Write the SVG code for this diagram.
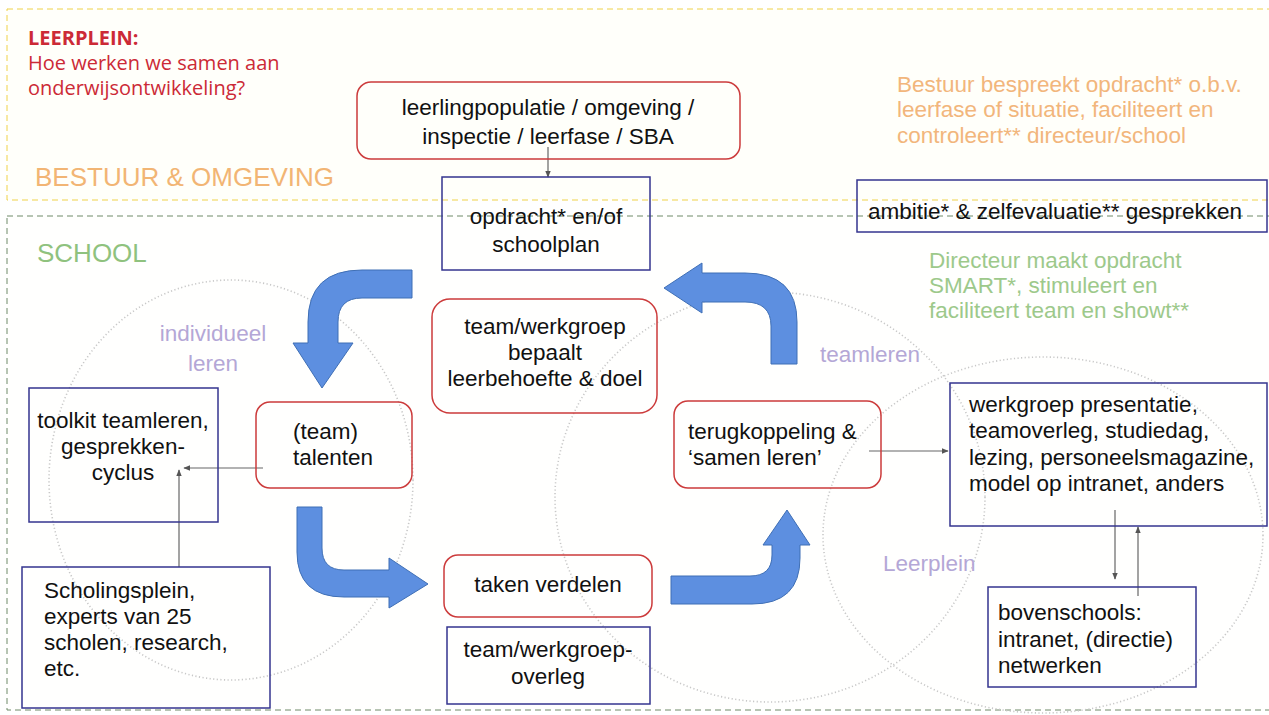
<svg xmlns="http://www.w3.org/2000/svg" width="1269" height="715" viewBox="0 0 1269 715">
<defs>
<style>
.t{font-family:"Liberation Sans",Arial,sans-serif;font-size:22.5px;fill:#111}
.c{text-anchor:middle}
.rb{fill:none;stroke:#cc3b3b;stroke-width:1.5}
.bb{fill:none;stroke:#35358f;stroke-width:1.5}
.circ{fill:none;stroke:#c8c8c8;stroke-width:1.6;stroke-dasharray:1.2 2.4}
.lav{font-family:"Liberation Sans",Arial,sans-serif;font-size:22.5px;fill:#b4a7d6}
.org{font-family:"Liberation Sans",Arial,sans-serif;font-size:22.5px;fill:#f2b67c}
.grn{font-family:"Liberation Sans",Arial,sans-serif;font-size:22.5px;fill:#9dc98b}
.hd{font-family:"Open Sans","Liberation Sans",sans-serif;font-size:20px;fill:#cc2a36}
.arr{fill:#5d8fe0;stroke:#3f6fb5;stroke-width:1}
.con{fill:none;stroke:#666;stroke-width:1.2}
</style>
<marker id="ah" viewBox="0 0 10 10" refX="9" refY="5" markerWidth="7" markerHeight="7" orient="auto" markerUnits="userSpaceOnUse">
<path d="M0,1 L10,5 L0,9 Z" fill="#555"/>
</marker>
</defs>
<rect width="1269" height="715" fill="#ffffff"/>

<g id="zones">
<rect x="7" y="9" width="1290" height="191" fill="#fffffa" stroke="#efd24a" stroke-width="1" stroke-dasharray="6 4"/>
<rect x="7" y="216" width="1290" height="494" fill="#fffffe" stroke="#6f8a68" stroke-width="1" stroke-dasharray="6 4"/>
<text class="hd" x="28" y="45" font-size="18.5" font-weight="bold" fill="#c8102e">LEERPLEIN:</text>
<text class="hd" x="28" y="70">Hoe werken we samen aan</text>
<text class="hd" x="28" y="95">onderwijsontwikkeling?</text>
<text x="35" y="186" font-family="'Liberation Sans',Arial,sans-serif" font-size="26" fill="#f2b574">BESTUUR &amp; OMGEVING</text>
<text x="37" y="262" font-family="'Liberation Sans',Arial,sans-serif" font-size="26" fill="#8fc27e">SCHOOL</text>
<text class="org" x="897" y="92">Bestuur bespreekt opdracht* o.b.v.</text>
<text class="org" x="897" y="117">leerfase of situatie, faciliteert en</text>
<text class="org" x="897" y="143">controleert** directeur/school</text>
<text class="grn" x="929" y="268">Directeur maakt opdracht</text>
<text class="grn" x="929" y="293">SMART*, stimuleert en</text>
<text class="grn" x="929" y="318">faciliteert team en showt**</text>
</g>

<g id="circles">
<ellipse class="circ" cx="231" cy="480" rx="182" ry="200"/>
<ellipse class="circ" cx="770" cy="497" rx="215" ry="205"/>
<ellipse class="circ" cx="1043" cy="535" rx="220" ry="178"/>
<text class="lav c" x="213" y="341">individueel</text>
<text class="lav c" x="213" y="371">leren</text>
<text class="lav" x="820" y="362">teamleren</text>
<text class="lav" x="883" y="571">Leerplein</text>
</g>

<g id="flow-arrows">
<path class="arr" d="M412,270 L362,270 Q308,270 308,322 L308,343 L293,343 L322,388 L353,343 L338,343 L338,322 Q338,298 362,298 L412,298 Z"/>
<path class="arr" d="M297,507 L322,507 L322,548 Q322,570 344,570 L389,570 L389,558 L428,584 L389,608 L389,597 L344,597 Q297,597 297,552 Z"/>
<path class="arr" d="M671,576 L750,576 Q772,576 772,555 L772,545 L763,545 L787,510 L810,545 L800,545 L800,558 Q800,604 752,604 L671,604 Z"/>
<path class="arr" d="M771,364 L797,364 L797,322 Q797,273 745,273 L702,273 L702,263 L664,288 L702,313 L702,302 L745,302 Q771,302 771,326 Z"/>
</g>

<g id="connectors">
<line class="con" x1="548" y1="147" x2="548" y2="177" marker-end="url(#ah)"/>
<line class="con" x1="263" y1="468" x2="184" y2="468" marker-end="url(#ah)"/>
<line class="con" x1="179" y1="567" x2="179" y2="470" marker-end="url(#ah)"/>
<line class="con" x1="869" y1="451" x2="948" y2="451" marker-end="url(#ah)"/>
<line class="con" x1="1115" y1="510" x2="1115" y2="579" marker-end="url(#ah)"/>
<line class="con" x1="1138" y1="596" x2="1138" y2="527" marker-end="url(#ah)"/>
</g>

<g id="n-context">
<rect class="rb" x="357" y="82" width="383" height="77" rx="14"/>
<text class="t c" x="548" y="115">leerlingpopulatie / omgeving /</text>
<text class="t c" x="548" y="144">inspectie / leerfase / SBA</text>
</g>

<g id="n-opdracht">
<rect class="bb" x="442" y="177" width="208" height="93"/>
<text class="t c" x="546" y="224">opdracht* en/of</text>
<text class="t c" x="546" y="252">schoolplan</text>
</g>

<g id="n-ambitie">
<rect class="bb" x="857" y="180" width="410" height="52"/>
<text class="t" x="868" y="219">ambitie* &amp; zelfevaluatie** gesprekken</text>
</g>

<g id="n-teamdoel">
<rect class="rb" x="432" y="299" width="225" height="114" rx="18"/>
<text class="t c" x="545" y="334">team/werkgroep</text>
<text class="t c" x="545" y="360">bepaalt</text>
<text class="t c" x="545" y="386">leerbehoefte &amp; doel</text>
</g>

<g id="n-talenten">
<rect class="rb" x="256" y="402" width="156" height="86" rx="14"/>
<text class="t" x="293" y="439">(team)</text>
<text class="t" x="293" y="465">talenten</text>
</g>

<g id="n-toolkit">
<rect class="bb" x="29" y="388" width="189" height="134"/>
<text class="t c" x="123" y="428">toolkit teamleren,</text>
<text class="t c" x="123" y="454">gesprekken-</text>
<text class="t c" x="123" y="480">cyclus</text>
</g>

<g id="n-scholing">
<rect class="bb" x="22" y="567" width="248" height="141"/>
<text class="t" x="44" y="598">Scholingsplein,</text>
<text class="t" x="44" y="624">experts van 25</text>
<text class="t" x="44" y="650">scholen, research,</text>
<text class="t" x="44" y="676">etc.</text>
</g>

<g id="n-taken">
<rect class="rb" x="444" y="555" width="208" height="62" rx="14"/>
<text class="t c" x="548" y="592">taken verdelen</text>
</g>

<g id="n-overleg">
<rect class="bb" x="447" y="627" width="203" height="77"/>
<text class="t c" x="548" y="657">team/werkgroep-</text>
<text class="t c" x="548" y="684">overleg</text>
</g>

<g id="n-terug">
<rect class="rb" x="674" y="401" width="207" height="87" rx="14"/>
<text class="t" x="688" y="439">terugkoppeling &amp;</text>
<text class="t" x="688" y="465">‘samen leren’</text>
</g>

<g id="n-werkgroep">
<rect class="bb" x="950" y="383" width="317" height="143"/>
<text class="t" x="969" y="412">werkgroep presentatie,</text>
<text class="t" x="969" y="438">teamoverleg, studiedag,</text>
<text class="t" x="969" y="465">lezing, personeelsmagazine,</text>
<text class="t" x="969" y="491">model op intranet, anders</text>
</g>

<g id="n-boven">
<rect class="bb" x="988" y="587" width="208" height="100"/>
<text class="t" x="998" y="620">bovenschools:</text>
<text class="t" x="998" y="647">intranet, (directie)</text>
<text class="t" x="998" y="673">netwerken</text>
</g>
</svg>
